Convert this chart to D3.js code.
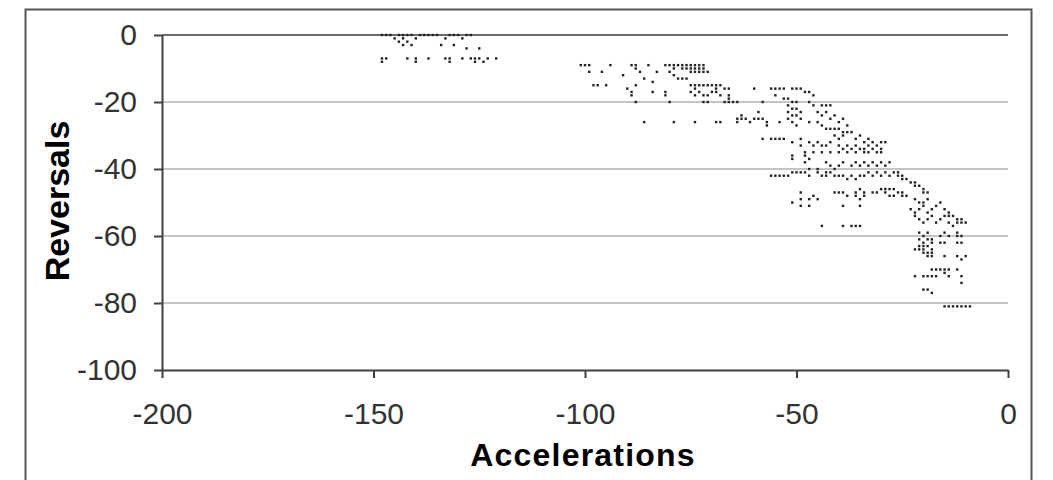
<!DOCTYPE html>
<html><head><meta charset="utf-8">
<script src="https://cdn.jsdelivr.net/npm/d3@7"></script>
<style>
html,body{margin:0;padding:0;background:#fff;}
svg{display:block;font-family:"Liberation Sans",Arial,sans-serif;}
</style></head>
<body><svg id="c" width="1053" height="480"></svg>
<script>
const xTicks = [-200, -150, -100, -50, 0];
const yTicks = [-100, -80, -60, -40, -20, 0];
const xTitle = "Accelerations";
const yTitle = "Reversals";

// [accelerations, reversals]
const clusterTop = [
 [-148,0],[-147,0],[-146,0],[-144,0],[-143,0],[-142,0],[-141,0],[-139,0],[-138,0],[-137,0],[-136,0],[-135,0],[-132,0],[-131,0],[-130,0],[-128,0],[-127,0],
 [-145,-1],[-143,-1],[-140,-1],[-133,-1],[-129,-1],
 [-144,-2],[-142,-2],
 [-143,-3],[-141,-3],[-134,-3],[-131,-3],
 [-128,-4],[-125,-4],
 [-148,-7],[-147,-7],[-142,-7],[-140,-7],[-137,-7],[-133,-7],[-132,-7],[-129,-7],[-127,-7],[-126,-7],[-125,-7],[-123,-7],[-121,-7],
 [-148,-8],[-140,-8],[-132,-8],[-126,-8],[-124,-8]
];

const clusterMid = [
 [-101,-9],[-100,-9],[-99,-9],[-94,-9],[-89,-9],[-88,-9],[-85,-9],[-81,-9],[-80,-9],[-79,-9],[-78,-9],[-77,-9],[-76,-9],[-75,-9],[-74,-9],[-73,-9],[-72,-9],
 [-88,-10],[-79,-10],[-77,-10],[-76,-10],[-75,-10],[-74,-10],[-73,-10],[-72,-10],
 [-99,-11],[-96,-11],[-87,-11],[-83,-11],[-80,-11],[-75,-11],[-74,-11],[-73,-11],[-72,-11],[-71,-11],
 [-91,-12],[-79,-12],
 [-86,-13],[-78,-13],[-77,-13],[-76,-13],
 [-84,-14],
 [-98,-15],[-97,-15],[-95,-15],[-88,-15],[-75,-15],[-74,-15],[-73,-15],[-72,-15],[-71,-15],[-70,-15],[-69,-15],[-68,-15],
 [-90,-16],[-74,-16],[-69,-16],[-67,-16],[-66,-16],
 [-89,-17],[-84,-17],[-81,-17],[-75,-17],[-73,-17],[-70,-17],[-69,-17],
 [-89,-18],[-81,-18],[-74,-18],[-72,-18],[-71,-18],[-68,-18],[-66,-18],
 [-66,-19],
 [-88,-20],[-80,-20],[-72,-20],[-71,-20],[-67,-20],[-66,-20],[-65,-20],[-64,-20],
 [-64,-25],[-63,-25],
 [-86,-26],[-79,-26],[-74,-26],[-69,-26],[-68,-26],[-64,-26]
];

const clusterDense = [
 [-60,-16],[-56,-16],[-55,-16],[-54,-16],[-53,-16],[-51,-16],[-50,-16],[-49,-16],
 [-48,-17],[-47,-17],[-46,-18],[-55,-18],[-53,-19],[-52,-19],[-58,-20],[-47,-20],
 [-46,-21],[-44,-21],[-43,-21],[-42,-21],
 [-51,-20],[-50,-20],[-52,-21],[-50,-22],[-51,-22],[-49,-23],[-52,-23],[-51,-24],[-50,-24],[-52,-25],[-49,-25],[-51,-26],[-50,-27],
 [-59,-23],[-63,-24],[-62,-25],[-60,-25],[-59,-25],[-58,-25],[-61,-26],[-57,-26],[-54,-26],[-47,-26],[-57,-27],
 [-45,-23],[-44,-24],[-43,-23],[-42,-25],[-41,-24],[-40,-26],[-39,-25],[-38,-27],[-44,-27],[-43,-28],[-42,-28],[-41,-28],[-40,-28],[-39,-29],[-38,-29],[-45,-26],
 [-58,-31],[-56,-31],[-55,-31],[-54,-31],[-53,-31],[-49,-31],[-40,-31],
 [-51,-32],[-47,-32],[-45,-32],[-42,-32],
 [-49,-33],[-46,-33],[-44,-33],[-43,-33],
 [-41,-30],[-39,-30],[-37,-29],[-36,-31],[-35,-30],[-34,-32],[-33,-31],[-32,-32],[-31,-33],[-30,-34],
 [-40,-33],[-38,-33],[-37,-34],[-36,-33],[-35,-34],[-34,-34],[-33,-33],[-32,-34],[-31,-35],[-30,-35],
 [-39,-34],[-36,-35],[-34,-35],[-33,-35],[-30,-32],[-29,-32],
 [-48,-35],[-46,-35],[-44,-35],[-42,-35],[-40,-35],[-38,-35],
 [-51,-36],[-48,-36],[-51,-37],[-47,-37],
 [-48,-38],[-47,-40],[-45,-40],[-43,-41],[-41,-40],[-40,-39],
 [-43,-38],[-42,-39],[-39,-38],[-37,-39],[-36,-38],[-35,-39],[-34,-38],[-33,-39],[-32,-38],[-31,-39],[-30,-38],[-29,-39],[-28,-38]
];

const clusterRow42 = [
 [-56,-42],[-55,-42],[-54,-42],[-53,-42],[-52,-42],[-51,-41],[-50,-41],[-49,-41],[-48,-41],[-47,-42],[-45,-41],[-44,-42],[-43,-42],
 [-42,-41],[-41,-42],[-40,-42],[-39,-42],[-38,-43],[-37,-42],[-36,-43],[-35,-42],[-34,-42],[-33,-41],[-32,-42],[-31,-41],[-30,-42],[-29,-41],[-28,-42],[-27,-41],[-26,-42]
];

const clusterLower = [
 [-49,-47],[-49,-49],[-51,-50],[-49,-51],[-47,-49],[-47,-51],[-46,-48],[-45,-49],
 [-41,-47],[-40,-47],[-39,-47],[-38,-48],[-39,-51],
 [-36,-47],[-35,-46],[-34,-47],[-36,-48],[-35,-49],[-34,-48],[-35,-51],
 [-32,-47],[-31,-47],[-30,-46],[-29,-47],[-29,-46],[-28,-46],[-27,-46],[-26,-47],[-25,-47],
 [-28,-48],[-27,-48],[-25,-48],[-24,-48],
 [-44,-57],[-39,-57],[-37,-57],[-36,-57],[-35,-57]
];

const clusterRight = [
 [-26,-41],[-25,-42],[-25,-43],[-24,-43],[-23,-44],[-22,-44],[-22,-45],[-21,-45],[-20,-46],[-20,-47],[-19,-47],
 [-22,-49],[-21,-50],[-20,-50],[-19,-49],
 [-23,-52],[-22,-53],[-21,-52],[-20,-51],[-19,-53],[-18,-52],[-17,-51],[-16,-50],[-15,-52],[-14,-53],[-14,-54],[-13,-54],[-12,-55],[-12,-56],[-11,-56],[-11,-55],[-10,-56],
 [-22,-54],[-21,-55],[-20,-56],[-19,-55],[-18,-54],[-17,-56],[-16,-55],[-15,-54],[-14,-56],[-13,-57],
 [-21,-59],[-20,-60],[-19,-59],[-18,-61],[-21,-61],[-20,-62],[-19,-61],[-18,-62],[-18,-64],[-21,-63],[-20,-63],[-19,-63],
 [-16,-60],[-15,-59],[-14,-60],[-12,-60],[-12,-59],[-11,-60],
 [-16,-62],[-15,-62],[-12,-62],[-11,-62],
 [-22,-64],[-21,-64],[-20,-64],[-19,-65],[-18,-65],[-18,-66],[-20,-65],[-19,-66],
 [-15,-66],[-12,-66],[-11,-67],[-10,-66],
 [-18,-70],[-17,-70],[-16,-70],[-15,-70],[-14,-70],[-12,-70],
 [-22,-72],[-20,-72],[-19,-72],[-18,-72],[-17,-72],[-15,-71],[-14,-72],
 [-11,-72],[-11,-74],
 [-20,-76],[-19,-76],[-18,-77],
 [-15,-81],[-14,-81],[-13,-81],[-12,-81],[-11,-81],[-10,-81],[-9,-81]
];

const allPoints = [].concat(clusterTop, clusterMid, clusterDense, clusterRow42, clusterLower, clusterRight);

const svg = d3.select("#c");
const plotLeft = 162, plotRight = 1008, plotTop = 35, plotBottom = 370;
const x = d3.scaleLinear().domain([-200, 0]).range([plotLeft, plotRight]);
const y = d3.scaleLinear().domain([-100, 0]).range([plotBottom, plotTop]);
const fmt = d => String(d);

// outer frame
svg.append("rect").attr("x", 25.5).attr("y", 9.5).attr("width", 1006).attr("height", 520)
  .attr("fill", "#fff").attr("stroke", "#555").attr("stroke-width", 2);

// gridlines
svg.append("g").selectAll("line").data(yTicks.filter(d => d > -100)).join("line")
  .attr("x1", plotLeft).attr("x2", plotRight)
  .attr("y1", d => y(d)).attr("y2", d => y(d))
  .attr("stroke", d => d === 0 ? "#6a6a6a" : "#c4c4c4").attr("stroke-width", 2);

// y axis
const yAxis = svg.append("g").attr("transform", `translate(${plotLeft},0)`)
  .call(d3.axisLeft(y).tickValues(yTicks).tickSize(8).tickSizeOuter(0).tickPadding(17).tickFormat(fmt));
// x axis
const xAxis = svg.append("g").attr("transform", `translate(0,${plotBottom})`)
  .call(d3.axisBottom(x).tickValues(xTicks).tickSize(8).tickSizeOuter(0).tickPadding(25).tickFormat(fmt));

[yAxis, xAxis].forEach(g => {
  g.select(".domain").attr("stroke", "#404040").attr("stroke-width", 2);
  g.selectAll(".tick line").attr("stroke", "#404040").attr("stroke-width", 2);
  g.selectAll(".tick text").attr("fill", "#333").attr("font-size", 30)
    .attr("font-family", "'Liberation Sans', Arial, sans-serif");
});

// points
svg.append("g").selectAll("rect").data(allPoints).join("rect")
  .attr("x", d => x(d[0]) - 1.2).attr("y", d => y(d[1]) - 1.2)
  .attr("width", 2.4).attr("height", 2.4).attr("fill", "#222");

// titles
svg.append("text").attr("x", 583).attr("y", 466).attr("text-anchor", "middle")
  .attr("font-size", 32).attr("font-weight", "bold").attr("letter-spacing", 1.2).attr("fill", "#000").text(xTitle);
svg.append("text").attr("transform", "translate(69,201) rotate(-90)").attr("text-anchor", "middle")
  .attr("font-size", 34).attr("font-weight", "bold").attr("fill", "#000").text(yTitle);
</script></body></html>
